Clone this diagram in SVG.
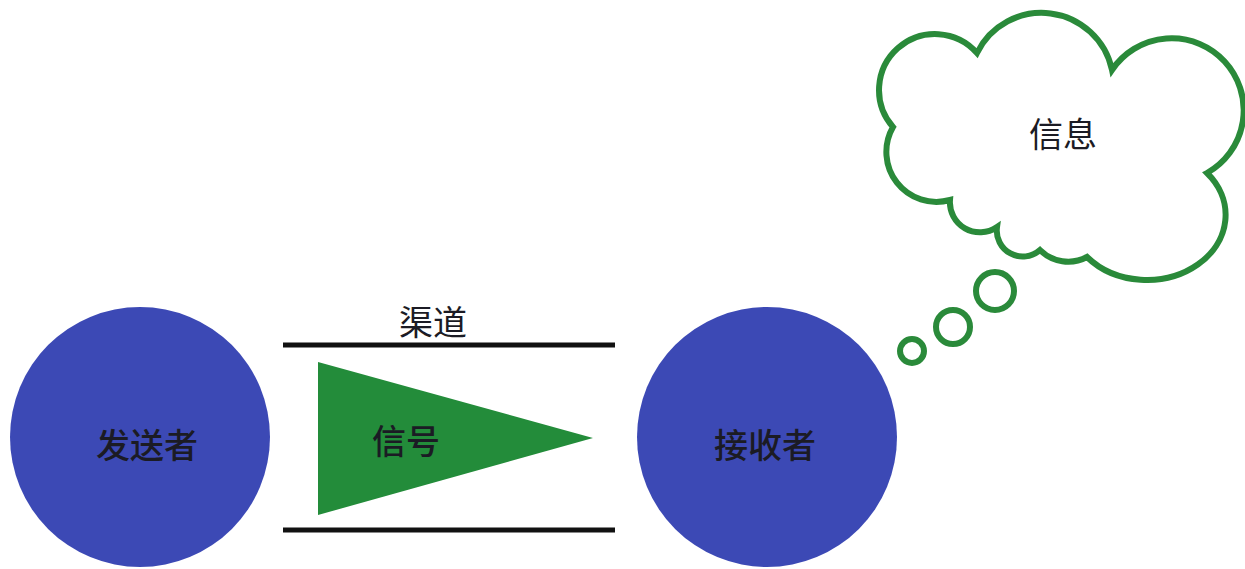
<svg xmlns="http://www.w3.org/2000/svg" width="1245" height="569" viewBox="0 0 1245 569">
<style>
.lbl{font-family:"Noto Sans CJK SC","Noto Sans",sans-serif;font-size:34px;fill:#1b1b24;text-anchor:middle;dominant-baseline:central}
.bold{font-weight:500}
.person{fill:#3c49b5}
.thought{fill:none;stroke:#2a8a3a;stroke-width:6}
.chan{stroke:#111;stroke-width:5}
</style>
<rect width="1245" height="569" fill="#fff"/>
<g id="sender"><circle class="person" cx="140" cy="437" r="130"/><text class="lbl bold" x="147" y="443">发送者</text></g>
<g id="channel"><line class="chan" x1="283" y1="345" x2="615" y2="345"/><line class="chan" x1="283" y1="530" x2="615" y2="530"/><text class="lbl" x="433" y="320">渠道</text></g>
<g id="signal"><polygon points="318,362 593,438 318,515" fill="#238c3a"/><text class="lbl bold" x="406" y="439">信号</text></g>
<g id="receiver"><circle class="person" cx="767" cy="437" r="130"/><text class="lbl bold" x="765" y="443">接收者</text></g>
<g id="message">
<path class="thought" fill="#fff" d="M893 127 A55 55 0 1 1 977 53 A72 72 0 0 1 1112 70 A72 72 0 1 1 1207 173 A75 62 0 0 1 1087 257 A40 40 0 0 1 1040 250 A26 26 0 0 1 997 227 A30 30 0 0 1 950 200 A50 50 0 0 1 893 127 Z"/>
<text class="lbl" x="1063" y="132">信息</text>
</g>
<g id="connectors">
<circle class="thought" cx="912" cy="351" r="12"/>
<circle class="thought" cx="953" cy="327" r="17"/>
<circle class="thought" cx="995" cy="291" r="19"/>
</g>
</svg>
